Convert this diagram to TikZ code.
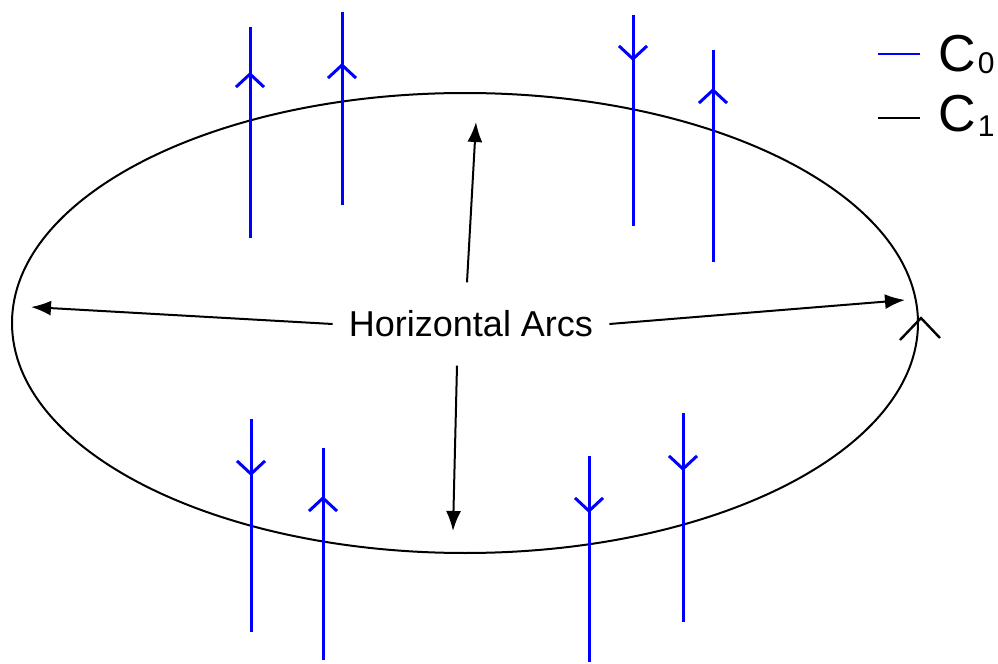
\documentclass[tikz,border=0pt]{standalone}
\usepackage{fontspec}
\setmainfont{Liberation Sans}
\usetikzlibrary{arrows.meta}

\begin{document}
\begin{tikzpicture}[
    x=0.5pt,y=-0.5pt,
    strand/.style={draw=blue,line width=1.5pt},
    barb/.style={strand,-{Straight Barb[length=6.5pt,width=14pt]}},
    curve/.style={draw=black,line width=1pt},
    arr/.style={-{Latex[length=10pt,width=7.5pt]},line width=1pt,draw=black},
    arclabel/.style={font=\fontsize{18}{22}\selectfont,inner xsep=8pt,inner ysep=14pt},
    key/.style={font=\fontsize{26}{30}\selectfont,inner sep=0pt,anchor=base west}
]
    \useasboundingbox (0,0) rectangle (998,664);

    % C1: the circle
    \draw[curve] (465,323) ellipse [x radius=453, y radius=230];
    \draw[curve,line width=1.2pt] (900,340) -- (921,318) -- (940,338);

    % C0: vertical strands
    \draw[strand] (250,27) -- (250,238);
    \draw[barb] (250,238) -- (250,72);
    \draw[strand] (342,12) -- (342,205);
    \draw[barb] (342,205) -- (342,63);
    \draw[strand] (633,15) -- (633,226);
    \draw[barb] (633,15) -- (633,61);
    \draw[strand] (713,50) -- (713,262);
    \draw[barb] (713,262) -- (713,88);
    \draw[strand] (251,419) -- (251,632);
    \draw[barb] (251,419) -- (251,476);
    \draw[strand] (323,448) -- (323,660);
    \draw[barb] (323,660) -- (323,496);
    \draw[strand] (589,456) -- (589,662);
    \draw[barb] (589,456) -- (589,513);
    \draw[strand] (683,413) -- (683,622);
    \draw[barb] (683,413) -- (683,471);

    \node[arclabel] (arcs) at (471,324) {Horizontal Arcs};
    \coordinate (lefttip) at (31,307);
    \coordinate (righttip) at (905,300);
    \coordinate (uptip) at (476,122);
    \coordinate (downtip) at (453,531);

    \draw[arr] (arcs.west) -- (lefttip);
    \draw[arr] (arcs.east) -- (righttip);
    \draw[arr] ([xshift=-2pt]arcs.north) -- (uptip);
    \draw[arr] ([xshift=-7pt]arcs.south) -- (downtip);

    % legend
    \node[key] (c0) at (938,71) {C\kern1pt\raisebox{-1.5pt}{\fontsize{15}{15}\selectfont 0}};
    \node[key] (c1) at (938,131) {C\kern1pt\raisebox{-2.5pt}{\fontsize{15}{15}\selectfont 1}};
    \draw[draw=blue,line width=1pt] (878,54) -- (920,54);
    \draw[draw=black,line width=1.2pt] (878,118) -- (920,118);
\end{tikzpicture}
\end{document}
